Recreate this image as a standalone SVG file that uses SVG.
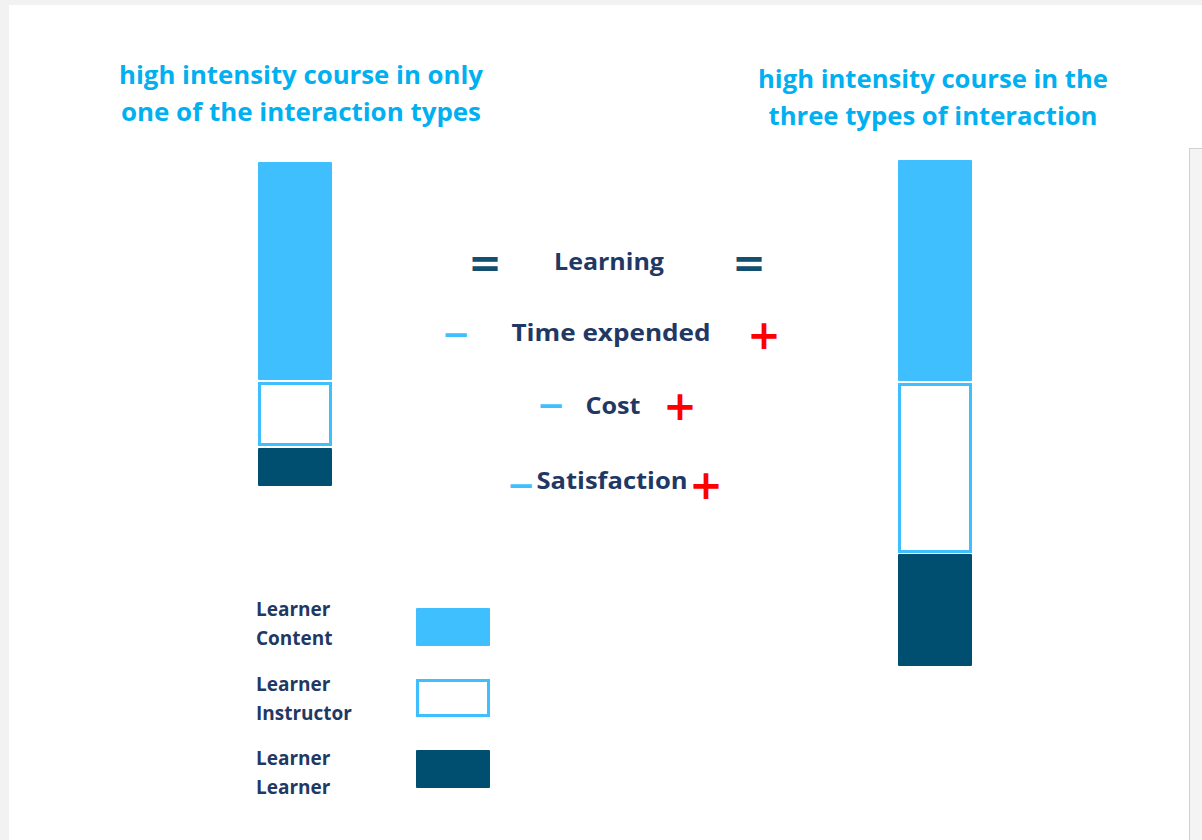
<svg xmlns="http://www.w3.org/2000/svg" width="1202" height="840" viewBox="0 0 1202 840">
<style>
.title{font-family:"Open Sans","Liberation Sans",sans-serif;font-weight:700;font-size:25px;fill:#00b0f0;text-anchor:middle}
.mid{font-family:"Open Sans","Liberation Sans",sans-serif;font-weight:700;font-size:24px;fill:#1f3864;text-anchor:middle}
.leg{font-family:"Open Sans","Liberation Sans",sans-serif;font-weight:700;font-size:19px;fill:#1f3864}
.sym{font-family:"DejaVu Sans","Liberation Sans",sans-serif;font-weight:700;text-anchor:middle}
.eq{fill:#13506f;font-size:40px}
.minus{fill:#40bfff;font-size:34px}
.plus{fill:#ff0000;font-size:40px}
.lc{fill:#40bfff}
.li{fill:#ffffff;stroke:#40bfff;stroke-width:3}
.ll{fill:#004f71}
</style>
<rect x="0" y="0" width="1202" height="840" fill="#f2f2f2"/>
<rect x="9" y="5" width="1193" height="835" fill="#ffffff"/>
<rect x="1189.5" y="148.5" width="13" height="692" fill="#f4f4f4" stroke="#d0d0d0" stroke-width="1"/>

<g id="title-left">
<text class="title" x="301" y="84" textLength="364" lengthAdjust="spacingAndGlyphs">high intensity course in only</text>
<text class="title" x="301" y="121" textLength="360" lengthAdjust="spacingAndGlyphs">one of the interaction types</text>
</g>
<g id="title-right">
<text class="title" x="933" y="88" textLength="350" lengthAdjust="spacingAndGlyphs">high intensity course in the</text>
<text class="title" x="933" y="125" textLength="329" lengthAdjust="spacingAndGlyphs">three types of interaction</text>
</g>

<g id="bar-left">
<rect class="lc" x="258" y="162" width="74" height="218" rx="1"/>
<rect class="li" x="259.5" y="383.5" width="71" height="61"/>
<rect class="ll" x="258" y="448" width="74" height="38" rx="1"/>
</g>
<g id="bar-right">
<rect class="lc" x="898" y="160" width="74" height="221" rx="1"/>
<rect class="li" x="899.5" y="384.5" width="71" height="167"/>
<rect class="ll" x="898" y="554" width="74" height="112" rx="1"/>
</g>

<g id="row-learning">
<text class="sym eq" x="485" y="277">=</text>
<text class="mid" x="609" y="270" textLength="110" lengthAdjust="spacingAndGlyphs">Learning</text>
<text class="sym eq" x="749" y="277">=</text>
</g>
<g id="row-time">
<text class="sym minus" x="456" y="346">−</text>
<text class="mid" x="611" y="341" textLength="199" lengthAdjust="spacingAndGlyphs">Time expended</text>
<text class="sym plus" x="764" y="349">+</text>
</g>
<g id="row-cost">
<text class="sym minus" x="551" y="417">−</text>
<text class="mid" x="613" y="414" textLength="55" lengthAdjust="spacingAndGlyphs">Cost</text>
<text class="sym plus" x="680" y="420">+</text>
</g>
<g id="row-satisfaction">
<text class="sym minus" x="521" y="497">−</text>
<text class="mid" x="612" y="489" textLength="151" lengthAdjust="spacingAndGlyphs">Satisfaction</text>
<text class="sym plus" x="706" y="499">+</text>
</g>

<g id="legend-content">
<text class="leg" x="256" y="616">Learner</text>
<text class="leg" x="256" y="645">Content</text>
<rect class="lc" x="416" y="608" width="74" height="38" rx="1"/>
</g>
<g id="legend-instructor">
<text class="leg" x="256" y="691">Learner</text>
<text class="leg" x="256" y="720">Instructor</text>
<rect class="li" x="417.5" y="680.5" width="71" height="35"/>
</g>
<g id="legend-learner">
<text class="leg" x="256" y="765">Learner</text>
<text class="leg" x="256" y="794">Learner</text>
<rect class="ll" x="416" y="750" width="74" height="38" rx="1"/>
</g>
</svg>
